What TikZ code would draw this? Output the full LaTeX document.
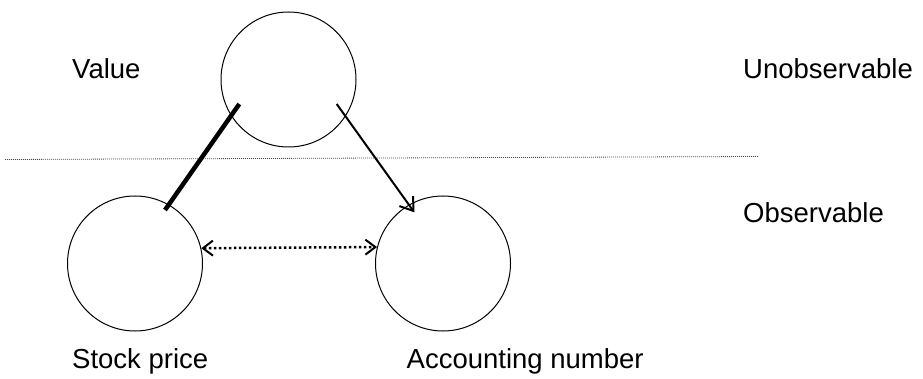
\documentclass[tikz,border=0pt]{standalone}
\usepackage{fontspec}
\setmainfont{Liberation Sans}
\usetikzlibrary{arrows.meta,positioning}

\tikzset{barb/.tip={Straight Barb[length=10pt,width=15pt,line width=2pt]}}

\begin{document}
\begin{tikzpicture}[x=1pt,y=-1pt,
  circ/.style={draw,circle,line width=1pt,minimum size=135pt,inner sep=0pt},
  lbl/.style={anchor=base west,inner sep=0pt,font=\fontsize{27.5}{32}\selectfont}]
  \useasboundingbox (0,0) rectangle (923,379);
  \node[circ] (value) at (288.5,79.5) {};
  \node[circ] (stock) at (135,263.5) {};
  \node[circ,right=172pt of stock] (account) {};
  % dotted divider: unobservable above, observable below
  \coordinate (divL) at (5,159.5);
  \coordinate (divR) at (758,156.5);
  \draw[gray!60!black,line width=0.8pt,dash pattern=on 1pt off 1pt] (divL) -- (divR);
  % links between the circles
  \draw[line width=4.5pt] ([shift={(-49.2,24.5)}]value.center) -- ([shift={(30,-53.5)}]stock.center);
  \draw[-{Straight Barb[length=12pt,width=17pt,line width=2pt]},line width=2pt] ([shift={(48.2,24.5)}]value.center) -- ([shift={(-28.7,-51.2)}]account.center);
  \draw[barb-barb,line width=2.5pt,dash pattern=on 2.5pt off 2.5pt] (stock.13.5) -- (account.166.5);
  % labels
  \node[lbl] (valueLbl) at (72,79) {Value};
  \node[lbl] (unobsLbl) at (743,79) {Unobservable};
  \node[lbl] (obsLbl) at (743,223) {Observable};
  \node[lbl] (stockLbl) at (72,368.5) {Stock price};
  \node[lbl] (accountLbl) at (406.5,368.5) {Accounting number};
\end{tikzpicture}
\end{document}
